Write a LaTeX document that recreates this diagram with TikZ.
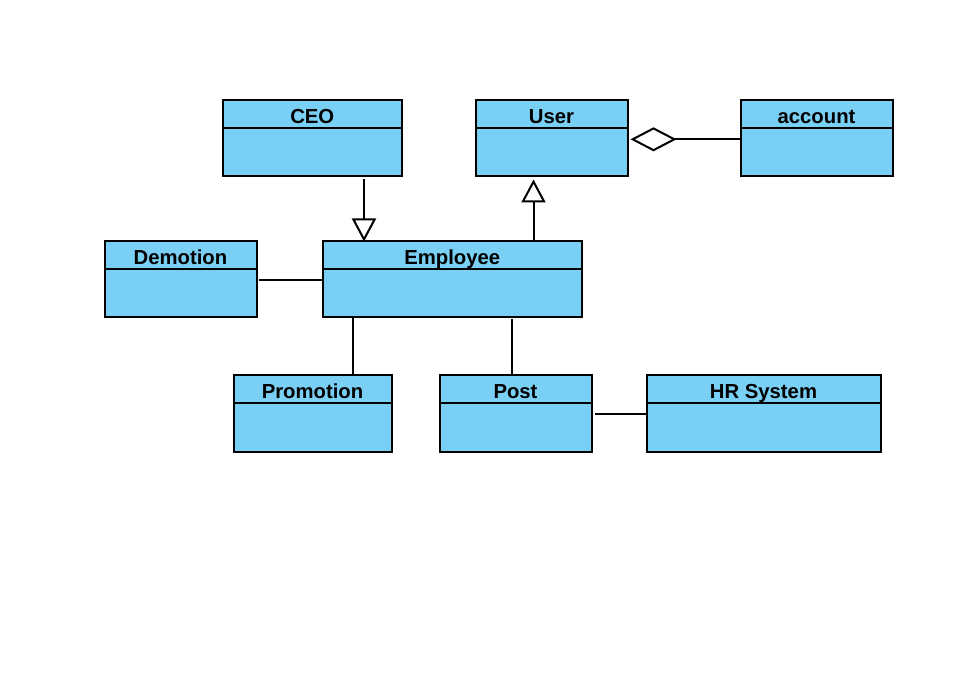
\documentclass[tikz,border=0pt]{standalone}
\usepackage{fontspec}
\setmainfont{Liberation Sans}
\usetikzlibrary{arrows.meta}
\definecolor{clsfill}{RGB}{122,207,244}
\tikzset{
  cls/.style={draw=black, fill=clsfill, line width=2pt, rectangle, inner sep=0pt, outer sep=0pt, anchor=north west},
  ttl/.style={anchor=base, inner sep=0pt, font=\fontsize{20.3}{24}\selectfont\bfseries},
  conn/.style={draw=black, line width=2pt},
  gen/.style={conn, -{Triangle[open, length=23pt, width=24pt, line join=miter]}},
  agg/.style={conn, -{Diamond[open, length=46pt, width=24pt, line join=miter]}},
}
\newcommand{\umlclass}[6]{%
  \node[cls, minimum width=#4pt, minimum height=#5pt] (#1) at (#2,#3) {};
  \draw[line width=2pt] ([yshift=-28pt]#1.north west) -- ([yshift=-28pt]#1.north east);
  \node[ttl] (#1t) at ([yshift=-22.8pt]#1.north) {#6};
}
\begin{document}
\begin{tikzpicture}[x=1pt, y=-1pt]
\useasboundingbox (0,0) rectangle (980,684);
\fill[white] (0,0) rectangle (980,684);
\umlclass{ceo}{222.5}{100.5}{179.5}{76}{CEO}
\umlclass{user}{475.5}{100.5}{152}{76}{User}
\umlclass{acc}{740.5}{100.5}{152}{76}{account}
\umlclass{dem}{104.5}{241.5}{152}{76}{Demotion}
\umlclass{emp}{322.5}{241.5}{259.5}{76}{Employee}
\umlclass{prom}{233.5}{375.5}{158}{76}{Promotion}
\umlclass{post}{439.5}{375.5}{152}{76}{Post}
\umlclass{hr}{646.5}{375.5}{234}{76}{HR System}
% generalizations
\draw[gen, shorten <=3pt] ([xshift=51.75pt]ceo.south) -- ([xshift=-88.25pt]emp.north);
\draw[gen, shorten >=3pt] ([xshift=81.25pt]emp.north) -- ([xshift=-18pt]user.south);
% aggregation
\draw[agg, shorten >=3pt] ([yshift=-0.8pt]acc.west) -- ([yshift=-0.8pt]user.east);
% associations
\draw[conn, shorten <=2.5pt] ([yshift=-1pt]dem.east) -- ([yshift=-1pt]emp.west);
\draw[conn] ([xshift=-99.75pt]emp.south) -- ([xshift=40pt]prom.north);
\draw[conn, shorten <=2pt] ([xshift=59.75pt]emp.south) -- ([xshift=-3.5pt]post.north);
\draw[conn, shorten <=3.5pt] ([yshift=-0.5pt]post.east) -- ([yshift=-0.5pt]hr.west);
\end{tikzpicture}
\end{document}
